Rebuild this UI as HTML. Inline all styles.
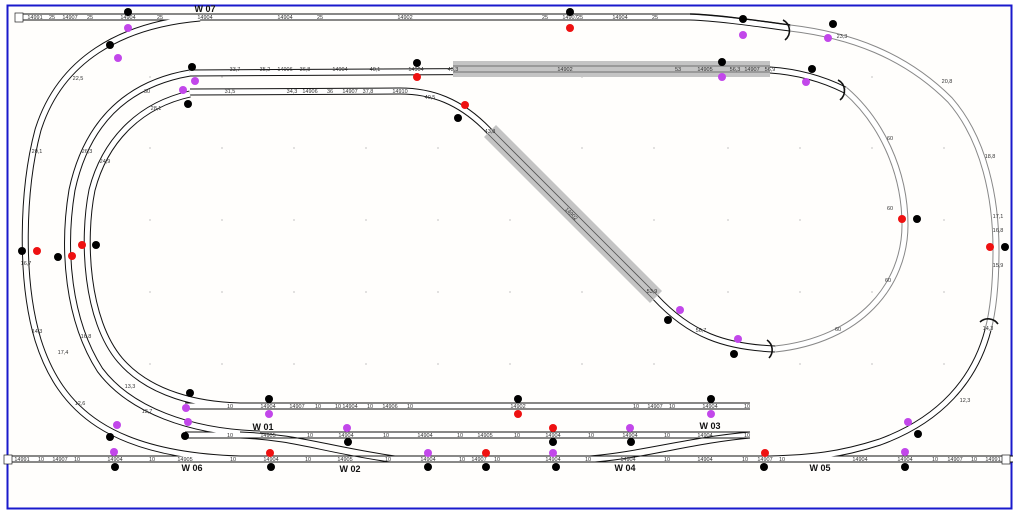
<!DOCTYPE html>
<html><head><meta charset="utf-8"><style>
html,body{margin:0;padding:0;background:#fff;}
svg{display:block;font-family:"Liberation Sans",sans-serif;}
.t1{fill:none;stroke:#111;stroke-width:7;}
.t2{fill:none;stroke:#fff;stroke-width:5;}
.g1{fill:none;stroke:#888;stroke-width:7;}
.tx{font-size:5.5px;fill:#333;text-anchor:middle;}
.w{font-size:9px;font-weight:bold;fill:#111;text-anchor:middle;}
.k{fill:#000}.m{fill:#c247ea}.r{fill:#ee1111}
</style></head><body>
<svg width="1024" height="515" viewBox="0 0 1024 515" xmlns="http://www.w3.org/2000/svg">
<rect x="0" y="0" width="1024" height="515" fill="#fff"/>
<rect x="7.5" y="5.5" width="1004" height="503" fill="#fffefc" stroke="#1a1acc" stroke-width="2"/>
<g fill="#999">
<circle cx="150" cy="77" r=".6"/><circle cx="222" cy="77" r=".6"/><circle cx="582" cy="77" r=".6"/><circle cx="872" cy="77" r=".6"/>
<circle cx="150" cy="148" r=".6"/><circle cx="222" cy="148" r=".6"/><circle cx="294" cy="148" r=".6"/><circle cx="366" cy="148" r=".6"/><circle cx="438" cy="148" r=".6"/><circle cx="582" cy="148" r=".6"/><circle cx="654" cy="148" r=".6"/><circle cx="728" cy="148" r=".6"/><circle cx="800" cy="148" r=".6"/><circle cx="872" cy="148" r=".6"/><circle cx="944" cy="148" r=".6"/>
<circle cx="150" cy="220" r=".6"/><circle cx="222" cy="220" r=".6"/><circle cx="294" cy="220" r=".6"/><circle cx="366" cy="220" r=".6"/><circle cx="438" cy="220" r=".6"/><circle cx="510" cy="220" r=".6"/><circle cx="654" cy="220" r=".6"/><circle cx="728" cy="220" r=".6"/><circle cx="800" cy="220" r=".6"/><circle cx="944" cy="220" r=".6"/>
<circle cx="150" cy="292" r=".6"/><circle cx="222" cy="292" r=".6"/><circle cx="294" cy="292" r=".6"/><circle cx="366" cy="292" r=".6"/><circle cx="438" cy="292" r=".6"/><circle cx="510" cy="292" r=".6"/><circle cx="582" cy="292" r=".6"/><circle cx="728" cy="292" r=".6"/><circle cx="800" cy="292" r=".6"/><circle cx="872" cy="292" r=".6"/><circle cx="944" cy="292" r=".6"/>
<circle cx="150" cy="364" r=".6"/><circle cx="222" cy="364" r=".6"/><circle cx="294" cy="364" r=".6"/><circle cx="366" cy="364" r=".6"/><circle cx="438" cy="364" r=".6"/><circle cx="510" cy="364" r=".6"/><circle cx="582" cy="364" r=".6"/><circle cx="654" cy="364" r=".6"/><circle cx="800" cy="364" r=".6"/><circle cx="872" cy="364" r=".6"/><circle cx="944" cy="364" r=".6"/>
</g>
<path class="g1" d="M790,28 C850,35 905,55 950,100 C985,140 996,200 996,250 C996,290 992,315 988,330"/>
<path class="g1" d="M845,90 C880,120 905,170 905,225 C905,285 860,340 775,349"/>
<path class="t2" d="M790,28 C850,35 905,55 950,100 C985,140 996,200 996,250 C996,290 992,315 988,330"/>
<path class="t2" d="M845,90 C880,120 905,170 905,225 C905,285 860,340 775,349"/>
<g class="t1">
<path d="M15,17 L690,17 C720,18 760,24 790,28"/>
<path d="M200,18 C120,25 60,60 38,130 C22,190 20,280 38,340 C60,410 110,455 240,459"/>
<path d="M988,330 C975,380 940,420 880,442 C840,455 810,458 770,459"/>
<path d="M10,459 L1013,459"/>
<path d="M190,73 C120,85 85,130 72,190 C62,250 68,320 100,370 C130,410 190,432 260,434"/>
<path d="M190,73 L770,70 C800,72 825,80 845,90"/>
<path d="M190,94 C140,105 105,140 92,190 C82,240 86,320 120,360 C150,395 200,405 240,406"/>
<path d="M190,92 L400,91 C430,91 460,100 490,132 L655,297 C690,335 725,347 775,349"/>
<path d="M185,406 L750,406"/>
<path d="M185,435 L750,435"/>
</g>
<g class="t2">
<path d="M15,17 L690,17 C720,18 760,24 790,28"/>
<path d="M200,18 C120,25 60,60 38,130 C22,190 20,280 38,340 C60,410 110,455 240,459"/>
<path d="M988,330 C975,380 940,420 880,442 C840,455 810,458 770,459"/>
<path d="M10,459 L1013,459"/>
<path d="M190,73 C120,85 85,130 72,190 C62,250 68,320 100,370 C130,410 190,432 260,434"/>
<path d="M190,73 L770,70 C800,72 825,80 845,90"/>
<path d="M190,94 C140,105 105,140 92,190 C82,240 86,320 120,360 C150,395 200,405 240,406"/>
<path d="M190,92 L400,91 C430,91 460,100 490,132 L655,297 C690,335 725,347 775,349"/>
<path d="M185,406 L750,406"/>
<path d="M185,435 L750,435"/>
</g>
<!-- crossovers (thin double lines) -->
<g fill="none" stroke="#111" stroke-width="1">
<path d="M240,432 C300,434 325,446 395,456"/>
<path d="M240,438 C295,440 320,452 390,462"/>
<path d="M590,456 C640,452 690,437 750,432"/>
<path d="M595,462 C645,458 695,443 750,438"/>
<path d="M690,14 C720,15 760,21 790,25" stroke-width="1.4"/>
</g>
<rect x="453" y="61" width="317" height="16" fill="#c4c4c4"/>
<polygon points="496,125 484,137 650,303 662,291" fill="#c4c4c4"/>
<path d="M453,66 L770,66 M453,72 L770,72" stroke="#555" stroke-width=".8"/>
<path d="M492,130 L657,295 M488,134 L653,299" stroke="#555" stroke-width=".8"/>
<g fill="none" stroke="#111" stroke-width="1.6">
<path d="M783,20 A12,12 0 0 1 785,40"/>
<path d="M838,80 A12,12 0 0 1 840,100"/>
<path d="M767,340 A12,12 0 0 1 769,358"/>
<path d="M980,322 A12,12 0 0 1 998,324"/>
</g>
<g fill="#fff" stroke="#222" stroke-width=".7">
<rect x="15" y="13" width="8" height="9"/><rect x="1002" y="455" width="8" height="9"/><rect x="4" y="455" width="8" height="9"/>
</g>
<g class="tx">
<text x="35" y="19">14991</text><text x="70" y="19">14907</text><text x="128" y="19">14904</text><text x="205" y="19">14904</text><text x="285" y="19">14904</text><text x="405" y="19">14902</text><text x="570" y="19">14907</text><text x="620" y="19">14904</text>
<text x="52" y="19">25</text><text x="90" y="19">25</text><text x="160" y="19">25</text><text x="320" y="19">25</text><text x="545" y="19">25</text><text x="580" y="19">25</text><text x="655" y="19">25</text>
<text x="235" y="71">33,7</text><text x="265" y="71">35,2</text><text x="285" y="71">14906</text><text x="305" y="71">36,8</text><text x="340" y="71">14904</text><text x="375" y="71">40,1</text><text x="416" y="71">14904</text><text x="453" y="71">43,3</text><text x="565" y="71">14902</text><text x="678" y="71">53</text><text x="705" y="71">14905</text><text x="735" y="71">56,3</text><text x="752" y="71">14907</text><text x="770" y="71">56,9</text>
<text x="230" y="93">31,5</text><text x="292" y="93">34,3</text><text x="310" y="93">14906</text><text x="330" y="93">36</text><text x="350" y="93">14907</text><text x="368" y="93">37,8</text><text x="400" y="93">14910</text><text x="430" y="99">40,5</text>
<text x="230" y="408">10</text><text x="268" y="408">14904</text><text x="297" y="408">14907</text><text x="318" y="408">10</text><text x="338" y="408">10</text><text x="350" y="408">14904</text><text x="370" y="408">10</text><text x="390" y="408">14906</text><text x="410" y="408">10</text><text x="518" y="408">14902</text><text x="636" y="408">10</text><text x="655" y="408">14907</text><text x="672" y="408">10</text><text x="710" y="408">14904</text><text x="747" y="408">10</text>
<text x="230" y="437">10</text><text x="268" y="437">14905</text><text x="310" y="437">10</text><text x="346" y="437">14904</text><text x="386" y="437">10</text><text x="425" y="437">14904</text><text x="460" y="437">10</text><text x="485" y="437">14905</text><text x="517" y="437">10</text><text x="553" y="437">14904</text><text x="591" y="437">10</text><text x="630" y="437">14904</text><text x="667" y="437">10</text><text x="705" y="437">14904</text><text x="747" y="437">10</text>
<text x="22" y="461">14991</text><text x="41" y="461">10</text><text x="60" y="461">14907</text><text x="77" y="461">10</text><text x="115" y="461">14904</text><text x="152" y="461">10</text><text x="185" y="461">14905</text><text x="233" y="461">10</text><text x="271" y="461">14904</text><text x="308" y="461">10</text><text x="345" y="461">14905</text><text x="388" y="461">10</text><text x="428" y="461">14904</text><text x="462" y="461">10</text><text x="479" y="461">14907</text><text x="497" y="461">10</text><text x="553" y="461">14904</text><text x="588" y="461">10</text><text x="628" y="461">14904</text><text x="667" y="461">10</text><text x="705" y="461">14904</text><text x="745" y="461">10</text><text x="765" y="461">14907</text><text x="782" y="461">10</text><text x="860" y="461">14904</text><text x="905" y="461">14904</text><text x="935" y="461">10</text><text x="955" y="461">14907</text><text x="974" y="461">10</text><text x="993" y="461">14991</text>
<text x="78" y="80">22,5</text><text x="37" y="153">20,1</text><text x="26" y="265">16,7</text><text x="37" y="333">14,3</text><text x="80" y="405">12,6</text>
<text x="147" y="93">30</text><text x="87" y="153">26,3</text><text x="105" y="163">24,9</text><text x="156" y="110">28,1</text><text x="86" y="338">16,8</text><text x="63" y="354">17,4</text><text x="130" y="388">13,3</text><text x="147" y="413">13,7</text>
<text x="842" y="38">23,3</text><text x="947" y="83">20,8</text><text x="990" y="158">18,8</text><text x="998" y="218">17,1</text><text x="998" y="232">16,8</text><text x="998" y="267">15,9</text><text x="988" y="330">14,3</text><text x="965" y="402">12,3</text>
<text x="890" y="140">60</text><text x="890" y="210">60</text><text x="888" y="282">60</text><text x="838" y="331">60</text><text x="701" y="332">56,7</text><text x="652" y="293">53,9</text><text x="490" y="133">43,8</text><text x="570" y="215" transform="rotate(45 570 215)">14902</text>
</g>
<text class="w" x="205" y="12">W 07</text><text class="w" x="263" y="430">W 01</text><text class="w" x="710" y="429">W 03</text>
<text class="w" x="192" y="471">W 06</text><text class="w" x="350" y="472">W 02</text><text class="w" x="625" y="471">W 04</text><text class="w" x="820" y="471">W 05</text>
<g>
<circle class="k" cx="128" cy="12" r="4"/><circle class="m" cx="128" cy="28" r="4"/>
<circle class="k" cx="570" cy="12" r="4"/><circle class="r" cx="570" cy="28" r="4"/>
<circle class="k" cx="743" cy="19" r="4"/><circle class="m" cx="743" cy="35" r="4"/>
<circle class="k" cx="833" cy="24" r="4"/><circle class="m" cx="828" cy="38" r="4"/>
<circle class="k" cx="110" cy="45" r="4"/><circle class="m" cx="118" cy="58" r="4"/>
<circle class="k" cx="192" cy="67" r="4"/><circle class="m" cx="195" cy="81" r="4"/>
<circle class="k" cx="417" cy="63" r="4"/><circle class="r" cx="417" cy="77" r="4"/>
<circle class="k" cx="722" cy="62" r="4"/><circle class="m" cx="722" cy="77" r="4"/>
<circle class="k" cx="812" cy="69" r="4"/><circle class="m" cx="806" cy="82" r="4"/>
<circle class="m" cx="183" cy="90" r="4"/><circle class="k" cx="188" cy="104" r="4"/>
<circle class="r" cx="465" cy="105" r="4"/><circle class="k" cx="458" cy="118" r="4"/>
<circle class="k" cx="22" cy="251" r="4"/><circle class="r" cx="37" cy="251" r="4"/>
<circle class="r" cx="82" cy="245" r="4"/><circle class="k" cx="96" cy="245" r="4"/>
<circle class="r" cx="72" cy="256" r="4"/><circle class="k" cx="58" cy="257" r="4"/>
<circle class="r" cx="902" cy="219" r="4"/><circle class="k" cx="917" cy="219" r="4"/>
<circle class="r" cx="990" cy="247" r="4"/><circle class="k" cx="1005" cy="247" r="4"/>
<circle class="m" cx="680" cy="310" r="4"/><circle class="k" cx="668" cy="320" r="4"/>
<circle class="m" cx="738" cy="339" r="4"/><circle class="k" cx="734" cy="354" r="4"/>
<circle class="k" cx="190" cy="393" r="4"/><circle class="m" cx="186" cy="408" r="4"/>
<circle class="k" cx="269" cy="399" r="4"/><circle class="m" cx="269" cy="414" r="4"/>
<circle class="k" cx="518" cy="399" r="4"/><circle class="r" cx="518" cy="414" r="4"/>
<circle class="k" cx="711" cy="399" r="4"/><circle class="m" cx="711" cy="414" r="4"/>
<circle class="m" cx="117" cy="425" r="4"/><circle class="k" cx="110" cy="437" r="4"/>
<circle class="m" cx="188" cy="422" r="4"/><circle class="k" cx="185" cy="436" r="4"/>
<circle class="m" cx="347" cy="428" r="4"/><circle class="k" cx="348" cy="442" r="4"/>
<circle class="r" cx="553" cy="428" r="4"/><circle class="k" cx="553" cy="442" r="4"/>
<circle class="m" cx="630" cy="428" r="4"/><circle class="k" cx="631" cy="442" r="4"/>
<circle class="m" cx="908" cy="422" r="4"/><circle class="k" cx="918" cy="434" r="4"/>
<circle class="m" cx="114" cy="452" r="4"/><circle class="k" cx="115" cy="467" r="4"/>
<circle class="r" cx="270" cy="453" r="4"/><circle class="k" cx="271" cy="467" r="4"/>
<circle class="m" cx="428" cy="453" r="4"/><circle class="k" cx="428" cy="467" r="4"/>
<circle class="r" cx="486" cy="453" r="4"/><circle class="k" cx="486" cy="467" r="4"/>
<circle class="m" cx="553" cy="453" r="4"/><circle class="k" cx="556" cy="467" r="4"/>
<circle class="r" cx="765" cy="453" r="4"/><circle class="k" cx="764" cy="467" r="4"/>
<circle class="m" cx="905" cy="452" r="4"/><circle class="k" cx="905" cy="467" r="4"/>
</g>
</svg>
</body></html>
